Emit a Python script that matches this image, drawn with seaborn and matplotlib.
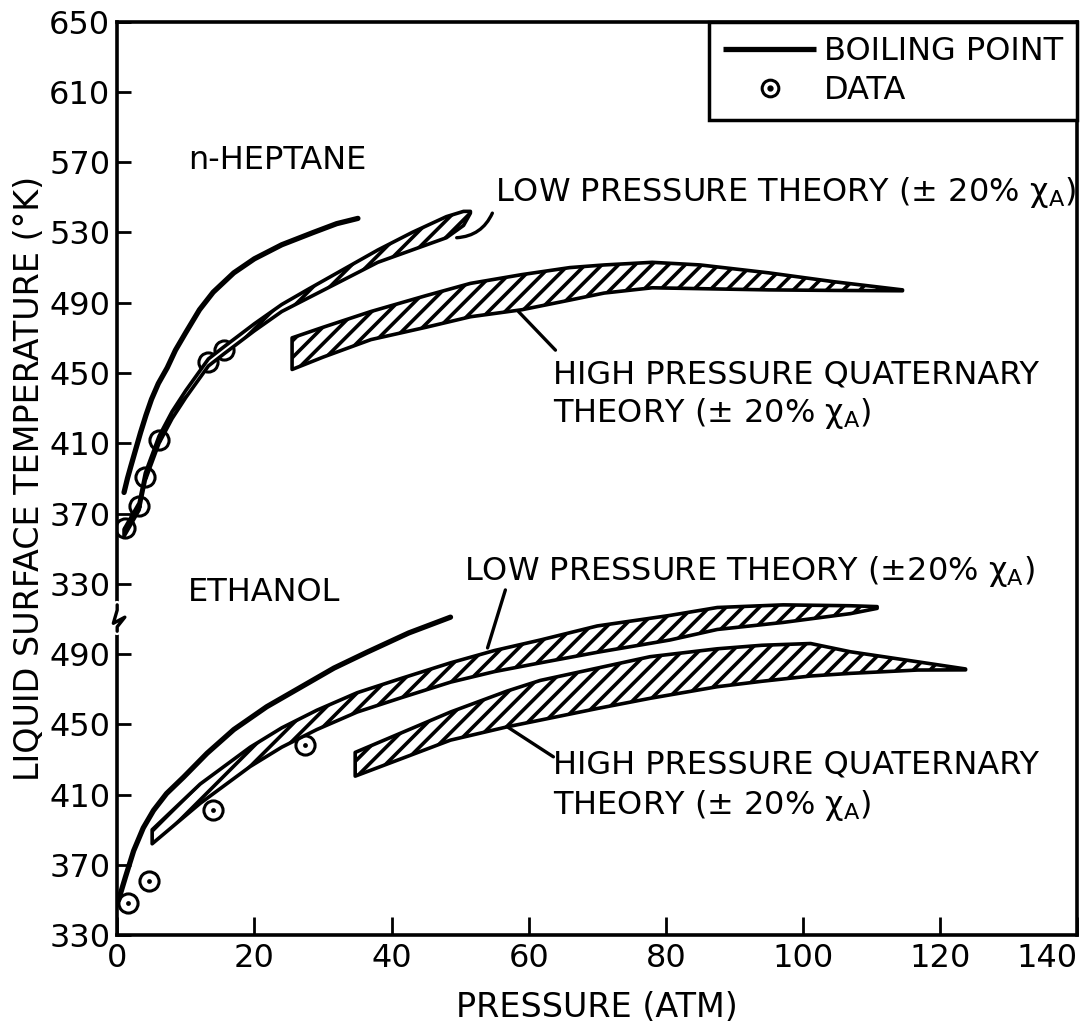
import numpy as np
import pandas as pd
import matplotlib
matplotlib.use('Agg')
import matplotlib.pyplot as plt
import matplotlib.transforms as mtransforms
from matplotlib.lines import Line2D
from matplotlib.legend_handler import HandlerTuple
import seaborn as sns

# style
sns.set_style('ticks')
plt.rcParams['font.family'] = ['DejaVu Sans']
plt.rcParams['mathtext.fontset'] = 'dejavusans'
plt.rcParams['mathtext.default'] = 'regular'
plt.rcParams['hatch.linewidth'] = 2.6
for key in ['text.color', 'axes.labelcolor', 'xtick.color', 'ytick.color', 'axes.edgecolor']:
    plt.rcParams[key] = 'black'

# the upper (n-heptane) block is shifted up on the broken axis
OFFSET = 200

### Data (pressure in atm, temperature in K)

# n-heptane
hep_bp_p = [1.0, 1.5, 2.0, 3.4, 4.2, 5.0, 6.0, 7.3, 8.5, 10, 12, 14, 17, 20, 24, 28.6, 32, 35.1]
hep_bp_t = [382, 390, 397, 416, 426, 435, 444, 453, 463, 473, 486, 496, 507, 515, 523, 530, 535, 538]
hep_data_p = [1.2, 3.2, 4.1, 6.1, 13.3, 15.6]
hep_data_t = [362, 374, 391, 412, 456, 463]
hep_lp_p = [1.0, 3.2, 4.1, 6.1, 8, 10, 13.3, 15.6, 20, 24, 28, 33, 38, 43, 48, 50.5, 51.5]
hep_lp_lo = [357, 372, 389, 410, 424, 436, 454, 461, 474, 485, 493, 503, 513, 520, 527, 534, 541]
hep_lp_hi = [361, 376, 393, 414, 428, 440, 458, 465, 478, 489, 498, 509, 520, 530, 539, 542, 542]
hep_hp_p = [25.5, 30, 37, 45, 51.5, 59, 66, 71, 78, 85, 95, 104.4, 114.5]
hep_hp_lo = [452, 459, 469, 476, 482, 486, 491.5, 495.5, 498.5, 498, 497.3, 497, 496.8]
hep_hp_hi = [470, 476, 485, 494, 501, 506, 510, 511.5, 513, 511.5, 507, 502, 497.3]

# ethanol
eth_bp_p = [0.2, 1.2, 2.4, 3.8, 5.3, 7.2, 9.7, 13.1, 17.0, 21.8, 26.7, 31.6, 36.4, 42.5, 48.6]
eth_bp_t = [350, 363, 378, 391, 401, 410.6, 420, 433.5, 447, 460, 471, 482, 491, 502, 511]
eth_data_p = [1.65, 4.6, 13.9, 27.4]
eth_data_t = [348, 361, 401, 438]
eth_lp_p = [5.1, 12.1, 19.4, 24, 29.1, 35, 41.3, 48.6, 55, 61.7, 70, 80.6, 87.5, 97.1, 106.9, 110.8]
eth_lp_lo = [382, 405, 426, 437, 447, 457, 465, 474, 480, 485, 491, 498, 504, 508, 513, 516]
eth_lp_hi = [390, 416, 437, 448, 458, 468, 476, 485, 492, 498, 506, 512, 516.5, 518, 517.5, 517]
eth_hp_p = [34.7, 48.6, 56.9, 61.7, 70, 77.7, 87.5, 94, 101.1, 106.9, 116.7, 123.7]
eth_hp_lo = [420.5, 441, 448.6, 452.4, 459, 464.8, 471.4, 474.5, 477.5, 479, 480.9, 481]
eth_hp_hi = [434, 457, 469, 475, 482, 488.5, 493, 495, 496, 491.3, 485.6, 481.5]

# axis ticks
x_ticks = [0, 20, 40, 60, 80, 100, 120, 140]
y_ticks_eth = [330, 370, 410, 450, 490]
y_ticks_hep = [330, 370, 410, 450, 490, 530, 570, 610, 650]

### Plot
fig = plt.figure(figsize=(10.85, 10.31), dpi=100)
ax = fig.add_axes([0.108, 0.093, 0.885, 0.886])

band_kw = dict(facecolor='white', edgecolor='black', hatch='//', linewidth=2.6,
               joinstyle='round', zorder=3)

def band(p, lo, hi, shift=0):
    ax.fill_between(p, np.array(lo) + shift, np.array(hi) + shift, **band_kw)

band(hep_lp_p, hep_lp_lo, hep_lp_hi, OFFSET)
band(hep_hp_p, hep_hp_lo, hep_hp_hi, OFFSET)
band(eth_lp_p, eth_lp_lo, eth_lp_hi)
band(eth_hp_p, eth_hp_lo, eth_hp_hi)

# boiling point curves
hep_bp = pd.DataFrame({'p': hep_bp_p, 't': np.array(hep_bp_t) + OFFSET})
eth_bp = pd.DataFrame({'p': eth_bp_p, 't': eth_bp_t})
for df in [hep_bp, eth_bp]:
    sns.lineplot(data=df, x='p', y='t', ax=ax, color='black', lw=3.8,
                 sort=False, estimator=None, zorder=4,
                 solid_joinstyle='round', solid_capstyle='round')

# data points (circle with a centre dot)
data = pd.DataFrame({'p': hep_data_p + eth_data_p,
                     't': list(np.array(hep_data_t) + OFFSET) + eth_data_t})
sns.scatterplot(data=data, x='p', y='t', ax=ax, marker='o', s=190,
                color='white', edgecolor='black', linewidth=2.2, zorder=2)
sns.scatterplot(data=data, x='p', y='t', ax=ax, marker='o', s=12,
                color='black', edgecolor='black', linewidth=0, zorder=2.5)

# axes
ax.set_xlim(0, 140)
ax.set_ylim(330, 850)
ax.set_xticks(x_ticks)
ax.set_xticklabels([str(t) for t in x_ticks], fontsize=23)
ax.set_yticks(y_ticks_eth + [t + OFFSET for t in y_ticks_hep])
ax.set_yticklabels([str(t) for t in y_ticks_eth + y_ticks_hep], fontsize=23)
ax.tick_params(axis='y', direction='in', length=10, width=2, pad=5)
ax.tick_params(axis='x', direction='in', length=13, width=2, pad=6)
ax.get_xticklabels()[-1].set_horizontalalignment('right')
for s in ax.spines.values():
    s.set_linewidth(2.6)
    s.set_color('black')
ax.set_xlabel('PRESSURE (ATM)', fontsize=24, labelpad=12)
ax.set_ylabel('LIQUID SURFACE TEMPERATURE (°K)', fontsize=24, labelpad=2)

# axis break
tr = mtransforms.blended_transform_factory(ax.transAxes, ax.transData)
ax.plot([0, 0], [503, 518], transform=tr, color='white', lw=6, clip_on=False, zorder=5)
ax.plot([0, 0, 0.008, -0.004, 0, 0], [503, 505.5, 511, 507.5, 515, 518],
        transform=tr, color='black', lw=2.4, clip_on=False, zorder=6)

# labels on the chart
fs = 23
ax.text(10.3, 771, 'n-HEPTANE', fontsize=fs, va='center')
ax.text(10.3, 525, 'ETHANOL', fontsize=fs, va='center')
ax.text(55.1, 753, r'LOW PRESSURE THEORY (± 20% $\chi_A$)', fontsize=fs, va='center')
ax.text(63.6, 649, 'HIGH PRESSURE QUATERNARY', fontsize=fs, va='center')
ax.text(63.6, 627, r'THEORY (± 20% $\chi_A$)', fontsize=fs, va='center')
ax.text(50.5, 537, r'LOW PRESSURE THEORY (±20% $\chi_A$)', fontsize=fs, va='center')
ax.text(63.6, 427, 'HIGH PRESSURE QUATERNARY', fontsize=fs, va='center')
ax.text(63.6, 404, r'THEORY (± 20% $\chi_A$)', fontsize=fs, va='center')

# leader lines
lead = dict(arrowstyle='-', color='black', lw=2.4, shrinkA=0, shrinkB=0)
ax.annotate('', xy=(49.5, 727), xytext=(54.7, 741),
            arrowprops=dict(lead, connectionstyle='arc3,rad=-0.3'))
ax.annotate('', xy=(58.5, 685), xytext=(63.9, 663), arrowprops=lead)
ax.annotate('', xy=(54.0, 493.5), xytext=(56.6, 526.5), arrowprops=lead)
ax.annotate('', xy=(56.9, 448.5), xytext=(63.6, 431.5), arrowprops=lead)

# legend
handles = [Line2D([], [], color='black', lw=3.8, solid_capstyle='butt'),
           (Line2D([], [], ls='none', marker='o', ms=12, mfc='white', mec='black', mew=2.2),
            Line2D([], [], ls='none', marker='o', ms=3.5, color='black'))]
leg = ax.legend(handles, ['BOILING POINT', 'DATA'], loc='upper right',
                handler_map={tuple: HandlerTuple(ndivide=1)}, fontsize=23,
                frameon=True, fancybox=False, edgecolor='black', framealpha=1,
                borderaxespad=0, handlelength=2.9, handletextpad=0.25,
                borderpad=0.45, labelspacing=0.25)
leg.get_frame().set_linewidth(2.5)

plt.savefig('out.png', dpi=100)
